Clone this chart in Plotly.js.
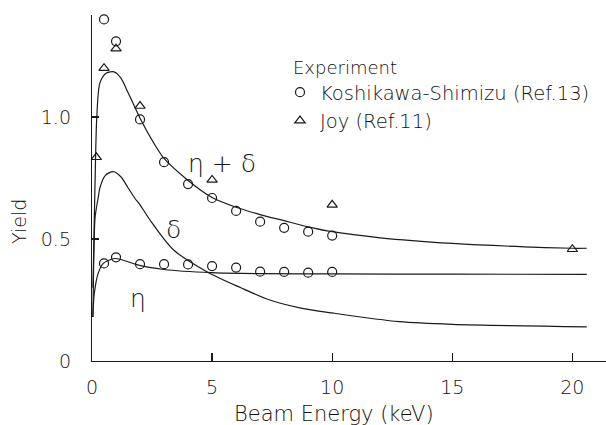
<!DOCTYPE html>
<html>
<head>
<meta charset="utf-8">
<script src="https://cdn.plot.ly/plotly-3.0.1.min.js"></script>
<style>html,body{margin:0;padding:0;background:#fff;}#chart{width:606px;height:425px;}</style>
</head>
<body>
<div id="chart"></div>
<script>
// Theory curves
const sumX = [0.04, 0.08, 0.15, 0.2, 0.33, 0.6, 0.92, 1.2, 1.5, 2, 2.5, 3, 4, 5, 6, 7, 8, 9, 10, 12, 15, 18, 20, 20.6];
const sumY = [0.30, 0.50, 0.84, 1.00, 1.14, 1.18, 1.185, 1.16, 1.10, 0.995, 0.905, 0.83, 0.74, 0.67, 0.63, 0.60, 0.575, 0.55, 0.53, 0.505, 0.482, 0.468, 0.462, 0.462];
const deltaX = [0.04, 0.08, 0.13, 0.26, 0.33, 0.55, 0.88, 1.2, 1.5, 1.8, 2.0, 2.4, 3.4, 4.8, 6.2, 7.4, 8.7, 10, 12.8, 15, 20.6];
const deltaY = [0.18, 0.45, 0.59, 0.67, 0.71, 0.76, 0.776, 0.755, 0.71, 0.665, 0.64, 0.58, 0.455, 0.365, 0.30, 0.25, 0.217, 0.197, 0.161, 0.15, 0.14];
const etaX = [0.03, 0.1, 0.26, 0.47, 0.96, 1.4, 1.86, 3, 5, 7, 10, 15, 20.6];
const etaY = [0.18, 0.28, 0.36, 0.40, 0.42, 0.41, 0.395, 0.375, 0.362, 0.358, 0.357, 0.356, 0.355];

// Experiment: Koshikawa-Shimizu (Ref.13)
const ksSumX = [0.5, 1, 2, 3, 4, 5, 6, 7, 8, 9, 10];
const ksSumY = [1.40, 1.31, 0.99, 0.815, 0.725, 0.668, 0.615, 0.571, 0.546, 0.53, 0.514];
const ksEtaX = [0.5, 1, 2, 3, 4, 5, 6, 7, 8, 9, 10];
const ksEtaY = [0.40, 0.425, 0.397, 0.397, 0.396, 0.389, 0.383, 0.366, 0.365, 0.362, 0.365];
// Experiment: Joy (Ref.11)
const joyX = [0.18, 0.5, 1, 2, 5, 10, 20];
const joyY = [0.835, 1.20, 1.28, 1.045, 0.742, 0.64, 0.458];

const xTicks = [0, 5, 10, 15, 20];
const xTickText = ['0', '5', '10', '15', '20'];
const yTicks = [0, 0.5, 1.0];
const yTickText = ['0', '0.5', '1.0'];

const ink = '#1a1a1a';
const txt = '#111';
const font = 'DejaVu Sans, Liberation Sans, sans-serif';
const fw = 200;
const curve = (x, y) => ({x, y, type: 'scatter', mode: 'lines', line: {color: ink, width: 1.2, shape: 'spline', smoothing: 0.8}, showlegend: false, hoverinfo: 'skip', cliponaxis: false});

const data = [
  curve(sumX, sumY),
  curve(deltaX, deltaY),
  curve(etaX, etaY),
  {x: ksSumX, y: ksSumY, type: 'scatter', mode: 'markers', name: 'Koshikawa-Shimizu (Ref.13)', legendgroup: 'ks',
   marker: {symbol: 'circle-open', size: 9, color: ink, line: {width: 1.2, color: ink}}, cliponaxis: false},
  {x: ksEtaX, y: ksEtaY, type: 'scatter', mode: 'markers', name: 'Koshikawa-Shimizu (Ref.13)', legendgroup: 'ks', showlegend: false,
   marker: {symbol: 'circle-open', size: 9, color: ink, line: {width: 1.2, color: ink}}, cliponaxis: false},
  {x: joyX, y: joyY, type: 'scatter', mode: 'markers', name: 'Joy (Ref.11)',
   marker: {symbol: 'triangle-up-open', size: 9, color: ink, line: {width: 1.2, color: ink}}, cliponaxis: false}
];

const L = 92, T = 15, W = 514, H = 346;
const Y0 = T + H; // pixel of y = 0
const px = v => (v - L) / W;
const py = v => (Y0 - v) / H;
const greek = {family: font, size: 25, color: ink, weight: fw};

const layout = {
  width: 606, height: 425,
  margin: {l: L, r: 0, t: T, b: 425 - Y0, pad: 0},
  paper_bgcolor: '#fff', plot_bgcolor: '#fff',
  font: {family: font, size: 18, color: txt, weight: fw},
  showlegend: true,
  legend: {x: px(280), y: py(73), xanchor: 'left', yanchor: 'top', bgcolor: 'rgba(0,0,0,0)',
           font: {family: font, size: 19.5, color: txt, weight: fw}, tracegroupgap: 0},
  xaxis: {range: [0, 21.4], showline: true, linecolor: ink, linewidth: 1.2, ticks: 'inside', ticklen: 8, tickwidth: 1.2, tickcolor: ink,
          tickvals: xTicks, ticktext: xTickText, showgrid: false, zeroline: false, ticklabelstandoff: 9,
          tickfont: {family: font, size: 19, color: txt, weight: fw}},
  yaxis: {range: [0, H / 244], showline: true, linecolor: ink, linewidth: 1.2, ticks: 'inside', ticklen: 7, tickwidth: 1.2, tickcolor: ink,
          tickvals: yTicks, ticktext: yTickText, showgrid: false, zeroline: false, ticklabelstandoff: 16,
          tickfont: {family: font, size: 19, color: txt, weight: fw}},
  annotations: [
    {text: 'Beam Energy (keV)', xref: 'paper', yref: 'paper', x: px(334), y: py(414), xanchor: 'center', yanchor: 'middle', showarrow: false,
     font: {family: font, size: 21, color: txt, weight: fw}},
    {text: 'Yield', xref: 'paper', yref: 'paper', x: px(19), y: py(222), xanchor: 'center', yanchor: 'middle', showarrow: false, textangle: -90,
     font: {family: font, size: 19, color: txt, weight: fw}},
    {text: 'Experiment', xref: 'paper', yref: 'paper', x: px(291), y: py(68), xanchor: 'left', yanchor: 'middle', showarrow: false,
     font: {family: font, size: 18, color: txt, weight: fw}},
    {text: 'η + δ', x: 5.42, y: 0.81, xref: 'x', yref: 'y', showarrow: false, font: greek},
    {text: 'δ', x: 3.375, y: 0.537, xref: 'x', yref: 'y', showarrow: false, font: greek},
    {text: 'η', x: 1.92, y: 0.258, xref: 'x', yref: 'y', showarrow: false, font: greek}
  ]
};

Plotly.newPlot('chart', data, layout, {displayModeBar: false, staticPlot: true});
</script>
</body>
</html>
